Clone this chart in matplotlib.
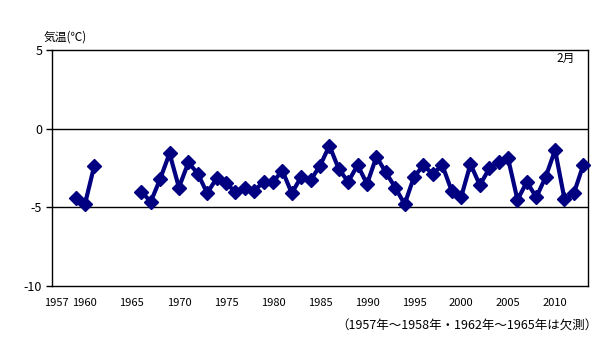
import numpy as np
import matplotlib
matplotlib.use("Agg")
import matplotlib.pyplot as plt

plt.rcParams['font.family'] = ['Noto Sans CJK JP', 'DejaVu Sans']

# February mean temperature (°C); 1957-1958 and 1962-1965 not observed
years_a = [1959, 1960, 1961]
temps_a = [-4.4, -4.8, -2.35]
years_b = list(range(1966, 2014))
temps_b = [-4.0, -4.65, -3.2, -1.57, -3.74, -2.15, -2.85, -4.1, -3.16, -3.48,
           -4.0, -3.74, -3.95, -3.38, -3.38, -2.67, -4.1, -3.06, -3.27, -2.36,
           -1.08, -2.57, -3.38, -2.31, -3.52, -1.78, -2.78, -3.74, -4.8, -3.06,
           -2.33, -2.89, -2.31, -3.95, -4.37, -2.25, -3.59, -2.53, -2.1, -1.89,
           -4.52, -3.38, -4.37, -3.06, -1.36, -4.48, -4.1, -2.31]

xtick_years = [1957, 1960, 1965, 1970, 1975, 1980, 1985, 1990, 1995, 2000, 2005, 2010]
ytick_vals = [5, 0, -5, -10]

fig = plt.figure(figsize=(6.05, 3.42), dpi=100)
ax = fig.add_axes([52 / 605, 1 - 286 / 342, 536 / 605, 236 / 342])

ax.set_xlim(1956.5, 2013.5)
ax.set_ylim(-10, 5)

for v in (0, -5):
    ax.axhline(v, color='black', lw=1.0, zorder=1)

navy = '#000080'
for xs, ys in ((years_a, temps_a), (years_b, temps_b)):
    ax.plot(xs, ys, color=navy, lw=3, marker='D', ms=7.5, mec=navy, mfc=navy,
            zorder=3, clip_on=False)

for s in ax.spines.values():
    s.set_color('black')
    s.set_linewidth(1.0)

ax.set_xticks(xtick_years)
ax.set_xticklabels([str(y) for y in xtick_years])
ax.tick_params(axis='x', length=0, pad=9, labelsize=8)
ax.get_xticklabels()[0].set_x(1957.5)
ax.set_yticks(ytick_vals)
ax.set_yticklabels([str(v) for v in ytick_vals])
ax.tick_params(axis='y', direction='out', length=4, width=1, pad=3, labelsize=9)

fig.text(44 / 605, 1 - 37 / 342, '気温(℃)', fontsize=8.5, ha='left', va='center')
ax.text(0.975, 0.965, '2月', transform=ax.transAxes, fontsize=8.5,
        ha='right', va='center')
fig.text(598 / 605, 1 - 326 / 342, '（1957年～1958年・1962年～1965年は欠測）',
         fontsize=9, ha='right', va='center')

fig.savefig('out.png', dpi=100)
